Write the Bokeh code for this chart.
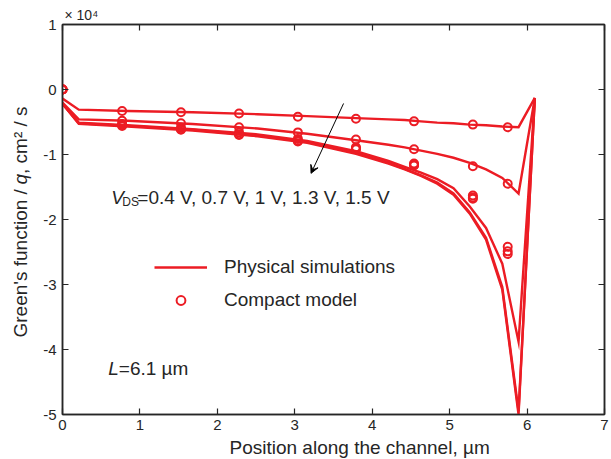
import math
from bokeh.plotting import figure
from bokeh.layouts import row
from bokeh.models import (LinearAxis, Range1d, Label, Arrow, VeeHead, Legend, LegendItem,
                          FixedTicker, Title)
from bokeh.embed import file_html
from bokeh.resources import INLINE

# ---------------- data (Green's function / q in units of 1e4 cm^2/s) ----------------
vds_values = ["0.4 V", "0.7 V", "1 V", "1.3 V", "1.5 V"]

sim_x = [0.00, 0.21, 0.84, 1.68, 2.52, 3.16, 3.79, 4.21, 4.42, 4.63, 4.84, 5.05, 5.26, 5.47, 5.68, 5.89, 6.10]
sim_04 = [-0.14, -0.31, -0.33, -0.35, -0.38, -0.41, -0.44, -0.46, -0.47, -0.49, -0.51, -0.52, -0.54, -0.55, -0.57, -0.58, -0.13]
sim_07 = [-0.20, -0.46, -0.48, -0.53, -0.60, -0.68, -0.78, -0.85, -0.89, -0.94, -0.99, -1.05, -1.13, -1.23, -1.36, -1.60, -0.13]
sim_10 = [-0.22, -0.51, -0.55, -0.61, -0.69, -0.79, -0.95, -1.10, -1.19, -1.28, -1.38, -1.52, -1.80, -2.13, -2.68, -3.88, -0.13]
sim_13 = [-0.22, -0.52, -0.56, -0.62, -0.71, -0.81, -0.98, -1.13, -1.22, -1.32, -1.43, -1.60, -1.89, -2.28, -3.04, -4.95, -0.13]
sim_15 = [-0.22, -0.53, -0.57, -0.63, -0.72, -0.82, -0.99, -1.14, -1.23, -1.33, -1.45, -1.62, -1.91, -2.31, -3.08, -5.00, -0.13]

model_x = [0.00, 0.77, 1.53, 2.28, 3.04, 3.79, 4.54, 5.30, 5.75]
model_04 = [0.00, -0.33, -0.35, -0.37, -0.42, -0.45, -0.49, -0.54, -0.58]
model_07 = [0.00, -0.48, -0.52, -0.58, -0.66, -0.77, -0.92, -1.18, -1.45]
model_10 = [0.00, -0.53, -0.59, -0.66, -0.76, -0.89, -1.14, -1.63, -2.42]
model_13 = [0.00, -0.55, -0.61, -0.69, -0.79, -0.91, -1.16, -1.66, -2.49]
model_15 = [0.00, -0.56, -0.62, -0.70, -0.80, -0.92, -1.17, -1.68, -2.53]

x_ticks = [0, 1, 2, 3, 4, 5, 6, 7]
y_ticks = [-5, -4, -3, -2, -1, 0, 1]

# ---------------- styles ----------------
RED = "#EC1C24"
DARK = "#262626"
FONT = "Liberation Sans"

p = figure(width=571, height=459, output_backend="svg", toolbar_location=None,
           x_range=Range1d(0, 7), y_range=Range1d(-5, 1),
           min_border_left=21, min_border_right=7, min_border_top=24, min_border_bottom=45)
p.background_fill_color = "white"
p.border_fill_color = "white"
p.outline_line_color = DARK
p.outline_line_width = 1.5
p.grid.visible = False

def style_axis(ax, show_labels=True):
    ax.axis_line_color = DARK
    ax.axis_line_width = 1.5
    ax.major_tick_line_color = DARK
    ax.major_tick_line_width = 1.2
    ax.major_tick_in = 6
    ax.major_tick_out = 0
    ax.minor_tick_line_color = None
    ax.major_label_text_font = FONT
    ax.major_label_text_color = DARK
    if show_labels:
        ax.major_label_text_font_size = "15px"
    else:
        ax.major_label_text_font_size = "1px"
        ax.major_label_standoff = 0

p.xaxis.ticker = FixedTicker(ticks=x_ticks)
p.yaxis.ticker = FixedTicker(ticks=y_ticks)
style_axis(p.xaxis[0])
style_axis(p.yaxis[0])
p.xaxis.major_label_standoff = 5
p.yaxis.major_label_standoff = 6
p.xaxis.major_label_overrides = {t: str(t) for t in x_ticks}
p.yaxis.major_label_overrides = {t: str(t) for t in y_ticks}

top_ax = LinearAxis(ticker=FixedTicker(ticks=x_ticks),
                    major_label_overrides={t: "" for t in x_ticks})
right_ax = LinearAxis(ticker=FixedTicker(ticks=y_ticks),
                      major_label_overrides={t: "" for t in y_ticks})
style_axis(top_ax, False)
style_axis(right_ax, False)
p.add_layout(top_ax, "above")
p.add_layout(right_ax, "right")

# ---------------- glyphs ----------------
sims = [sim_04, sim_07, sim_10, sim_13, sim_15]
models = [model_04, model_07, model_10, model_13, model_15]
line_renderers = []
circ_renderers = []
for ys in sims:
    r = p.line(sim_x, ys, line_color=RED, line_width=2.4, line_join="miter")
    line_renderers.append(r)
for ys in models:
    r = p.scatter(model_x, ys, marker="circle", size=8, fill_color=None,
                  line_color=RED, line_width=2)
    circ_renderers.append(r)

legend = Legend(items=[LegendItem(label="Physical simulations", renderers=[line_renderers[0]]),
                       LegendItem(label="Compact model", renderers=[circ_renderers[0]])],
                location=(92, 103), glyph_width=53, glyph_height=22, label_height=22,
                label_standoff=17, spacing=11, padding=0, margin=0,
                border_line_alpha=0, background_fill_alpha=0,
                label_text_font=FONT, label_text_font_size="19px", label_text_color=DARK)
p.add_layout(legend)

# ---------------- annotations ----------------
arrow_start = (3.63, -0.215)
arrow_end = (3.21, -1.29)
p.add_layout(Arrow(end=VeeHead(size=8, fill_color="black", line_color="black", line_width=1),
                   x_start=arrow_start[0], y_start=arrow_start[1],
                   x_end=arrow_end[0], y_end=arrow_end[1],
                   line_color="black", line_width=1))

def lab(fig, text, x, y, size="19px", style="normal", xo=0, yo=0, units="data", angle=0,
        baseline="alphabetic"):
    fig.add_layout(Label(x=x, y=y, x_units=units, y_units=units, text=text,
                         x_offset=xo, y_offset=yo, angle=angle,
                         text_font=FONT, text_font_size=size, text_font_style=style,
                         text_color=DARK, text_align="left", text_baseline=baseline))

# V_DS text
vx, vy = 0.63, -1.66
lab(p, "V", vx, vy, style="italic")
lab(p, "DS", vx, vy, size="12px", xo=11, yo=-5)
lab(p, "=" + ", ".join(vds_values), vx, vy, xo=26)

# L = 6.1 um
lx, ly = 0.59, -4.29
lab(p, "L", lx, ly, style="italic")
lab(p, "=6.1 \u00b5m", lx, ly, xo=10.6)

# x10^4 multiplier
p.add_layout(Title(text="\u00d7 10\u2074", align="left", offset=2, standoff=3,
                   text_font=FONT, text_font_size="14px", text_font_style="normal",
                   text_color=DARK), "above")

# x-axis label
p.add_layout(Title(text="Position along the channel, \u00b5m", align="left", offset=167,
                   standoff=4, text_font=FONT, text_font_size="19px",
                   text_font_style="normal", text_color=DARK), "below")

# ---------------- y-axis label in a narrow side panel (italic q) ----------------
side = figure(width=40, height=459, output_backend="svg", toolbar_location=None,
              x_range=Range1d(0, 1), y_range=Range1d(0, 1),
              x_axis_location=None, y_axis_location=None, min_border=0)
side.outline_line_color = None
side.background_fill_color = "white"
side.border_fill_color = "white"
side.grid.visible = False

y0 = 77
lab(side, "Green's function / ", 20, y0, units="screen", angle=math.pi / 2, baseline="middle")
lab(side, "q", 20, y0 + 152.9, units="screen", angle=math.pi / 2, baseline="middle", style="italic")
lab(side, ", cm\u00b2 / s", 20, y0 + 163.5, units="screen", angle=math.pi / 2, baseline="middle")

layout = row(side, p)
open("out.html", "w").write(file_html(layout, INLINE))
